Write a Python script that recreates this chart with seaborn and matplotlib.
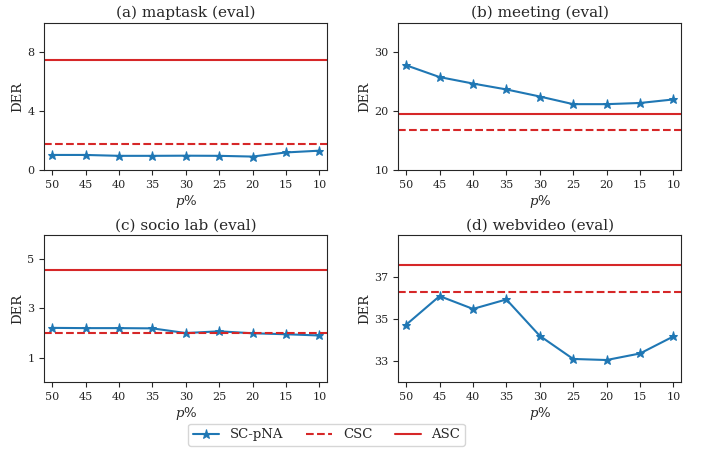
import numpy as np
import pandas as pd
import matplotlib
matplotlib.use('Agg')
import matplotlib.pyplot as plt
import seaborn as sns

# percent of data kept (x axis, shown descending)
p_vals = [50, 45, 40, 35, 30, 25, 20, 15, 10]

titles = ['(a) maptask (eval)', '(b) meeting (eval)',
          '(c) socio lab (eval)', '(d) webvideo (eval)']

sc_pna_maptask = [1.03, 1.03, 0.97, 0.97, 0.98, 0.97, 0.92, 1.20, 1.32]
sc_pna_meeting = [27.8, 25.8, 24.7, 23.7, 22.5, 21.2, 21.2, 21.4, 22.0]
sc_pna_socio = [2.21, 2.20, 2.20, 2.19, 2.00, 2.07, 1.99, 1.95, 1.90]
sc_pna_webvideo = [34.73, 36.09, 35.48, 35.93, 34.20, 33.10, 33.05, 33.36, 34.17]

csc = [1.78, 16.8, 2.0, 36.3]
asc = [7.46, 19.6, 4.56, 37.59]

ylims = [(0, 10), (10, 35), (0, 6), (32, 39)]
yticks = [[0, 4, 8], [10, 20, 30], [1, 3, 5], [33, 35, 37]]

sc_series = [sc_pna_maptask, sc_pna_meeting, sc_pna_socio, sc_pna_webvideo]

sns.set_style('ticks')
plt.rcParams['font.family'] = ['DejaVu Serif']
plt.rcParams['mathtext.fontset'] = 'dejavuserif'

fig, axes = plt.subplots(2, 2, figsize=(7.01, 4.49), dpi=100)
fig.subplots_adjust(left=0.063, right=0.972, top=0.949, bottom=0.149,
                    wspace=0.25, hspace=0.44)

blue = '#1f77b4'
red = '#d62728'

for i, ax in enumerate(axes.flat):
    df = pd.DataFrame({'p': p_vals, 'DER': sc_series[i]})
    sns.lineplot(data=df, x='p', y='DER', ax=ax, color=blue, marker='*',
                 markersize=6.5, markeredgecolor=blue, linewidth=1.5,
                 label='SC-pNA', legend=False)
    ax.axhline(csc[i], color=red, linestyle='--', linewidth=1.5, label='CSC')
    ax.axhline(asc[i], color=red, linestyle='-', linewidth=1.5, label='ASC')
    ax.set_xlim(51.2, 8.8)
    ax.set_xticks(p_vals)
    ax.set_ylim(*ylims[i])
    ax.set_yticks(yticks[i])
    ax.tick_params(labelsize=8, colors='0.15')
    ax.set_title(titles[i], fontsize=11, pad=4)
    ax.set_xlabel('$p$%', fontsize=9.5, labelpad=2)
    ax.set_ylabel('DER', fontsize=9.5, labelpad=2)

handles, labels = axes[0, 0].get_legend_handles_labels()
fig.legend(handles, labels, loc='lower center', ncol=3, fontsize=9.5,
           bbox_to_anchor=(0.466, -0.008), frameon=True, handlelength=2.0,
           columnspacing=1.7, borderpad=0.35)

fig.savefig('out.png', dpi=100)
